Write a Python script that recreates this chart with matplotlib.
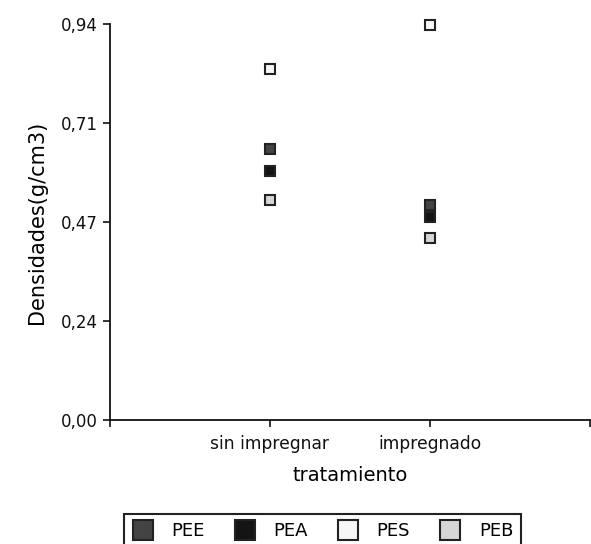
import matplotlib
matplotlib.use("Agg")
import matplotlib.pyplot as plt
from matplotlib.lines import Line2D

# data
tratamientos = ["sin impregnar", "impregnado"]
series = ["PEE", "PEA", "PES", "PEB"]
pee = [0.644, 0.511]
pea = [0.592, 0.481]
pes = [0.834, 0.938]
peb = [0.523, 0.431]
y_ticks = [0.0, 0.235, 0.47, 0.705, 0.94]
y_tick_labels = ["0,00", "0,24", "0,47", "0,71", "0,94"]

colores = {"PEE": "#444444", "PEA": "#141414", "PES": "#f7f7f7", "PEB": "#d6d6d6"}
valores = {"PEE": pee, "PEA": pea, "PES": pes, "PEB": peb}

plt.rcParams["font.family"] = "DejaVu Sans"

fig = plt.figure(figsize=(5.91, 5.44), dpi=100)
ax = fig.add_axes([110 / 591, 1 - 420 / 544, 480 / 591, 396 / 544])

xpos = [1, 2]
for s in series:
    ax.plot(xpos, valores[s], linestyle="none", marker="s", markersize=7,
            markerfacecolor=colores[s], markeredgecolor="#222222",
            markeredgewidth=1.5, clip_on=False)

ax.set_xlim(0, 3)
ax.set_ylim(0, 0.94)
ax.set_xticks([0, 1, 2, 3])
ax.set_xticklabels([""] + tratamientos + [""], fontsize=12.3)
ax.set_yticks(y_ticks)
ax.set_yticklabels(y_tick_labels, fontsize=12)
ax.tick_params(axis="both", length=5, width=1.2, colors="#111111", pad=4)
ax.tick_params(axis="x", pad=6)
for side in ["top", "right"]:
    ax.spines[side].set_visible(False)
for side in ["left", "bottom"]:
    ax.spines[side].set_linewidth(1.3)
    ax.spines[side].set_color("#111111")

ax.set_xlabel("tratamiento", fontsize=14, labelpad=9)
ax.set_ylabel("Densidades(g/cm3)", fontsize=15, labelpad=10)

handles = [Line2D([], [], linestyle="none", marker="s", markersize=15,
                  markerfacecolor=colores[s], markeredgecolor="#222222",
                  markeredgewidth=1.5) for s in series]
leg = fig.legend(handles, series, ncol=4, loc="upper center",
                 bbox_to_anchor=(322.5 / 591, 1 - 514 / 544),
                 fontsize=13, handlelength=1.2, handletextpad=1.0,
                 columnspacing=1.6, borderpad=0.45, borderaxespad=0,
                 fancybox=False, framealpha=1, edgecolor="#222222")
leg.get_frame().set_linewidth(1.5)

fig.savefig("out.png", dpi=100)
